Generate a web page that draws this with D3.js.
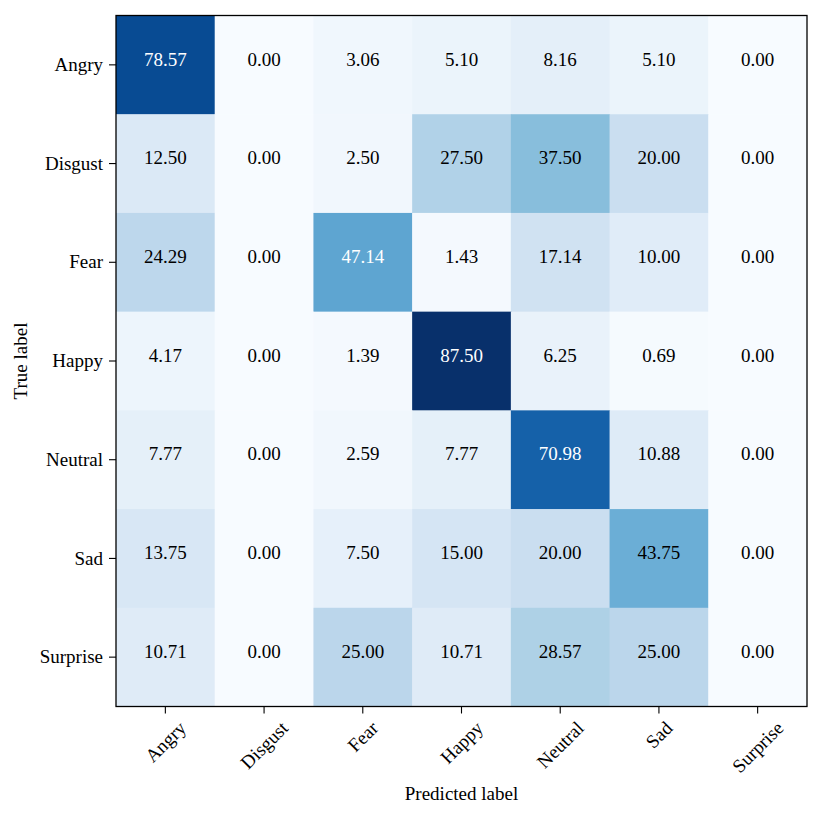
<!DOCTYPE html>
<html>
<head>
<meta charset="utf-8">
<script src="https://cdn.jsdelivr.net/npm/d3@7"></script>
<style>
  body { margin: 0; background: #fff; }
  svg text { font-family: "Liberation Serif", "Times New Roman", serif; }
</style>
</head>
<body>
<script>
'use strict';

var labels = ['Angry', 'Disgust', 'Fear', 'Happy', 'Neutral', 'Sad', 'Surprise'];

// rows = true label, columns = predicted label
var angry    = [78.57, 0.00, 3.06, 5.10, 8.16, 5.10, 0.00];
var disgust  = [12.50, 0.00, 2.50, 27.50, 37.50, 20.00, 0.00];
var fear     = [24.29, 0.00, 47.14, 1.43, 17.14, 10.00, 0.00];
var happy    = [4.17, 0.00, 1.39, 87.50, 6.25, 0.69, 0.00];
var neutral  = [7.77, 0.00, 2.59, 7.77, 70.98, 10.88, 0.00];
var sad      = [13.75, 0.00, 7.50, 15.00, 20.00, 43.75, 0.00];
var surprise = [10.71, 0.00, 25.00, 10.71, 28.57, 25.00, 0.00];

var rows = [angry, disgust, fear, happy, neutral, sad, surprise];

// matplotlib "Blues"
var blues = ['#f7fbff','#deebf7','#c6dbef','#9ecae1','#6baed6','#4292c6','#2171b5','#08519c','#08306b'];

var width = 830, height = 818,
  plotLeft = 116, plotTop = 15.5, side = 691,
  fs = 19;

var cells = [];
rows.forEach(function (r, i) {
  r.forEach(function (v, j) {
    cells.push({ row: labels[i], col: labels[j], value: v });
  });
});

var vmax = d3.max(cells, function (d) { return d.value; });
var thresh = vmax / 2;

var color = d3.scaleLinear()
  .domain(blues.map(function (c, i) { return vmax * i / (blues.length - 1); }))
  .range(blues)
  .interpolate(d3.interpolateRgb);

var x = d3.scaleBand().domain(labels).range([plotLeft, plotLeft + side]);
var y = d3.scaleBand().domain(labels).range([plotTop, plotTop + side]);

var svg = d3.select('body').append('svg')
  .attr('width', width)
  .attr('height', height);

svg.append('g').selectAll('rect')
  .data(cells)
  .enter().append('rect')
  .attr('x', function (d) { return x(d.col); })
  .attr('y', function (d) { return y(d.row); })
  .attr('width', x.bandwidth() + 0.5)
  .attr('height', y.bandwidth() + 0.5)
  .attr('fill', function (d) { return color(d.value); });

svg.append('g').selectAll('text')
  .data(cells)
  .enter().append('text')
  .attr('x', function (d) { return x(d.col) + x.bandwidth() / 2; })
  .attr('y', function (d) { return y(d.row) + y.bandwidth() / 2 - 6; })
  .attr('text-anchor', 'middle')
  .attr('dy', '0.35em')
  .style('font-size', fs + 'px')
  .attr('fill', function (d) { return d.value > thresh ? '#ffffff' : '#000000'; })
  .text(function (d) { return d.value.toFixed(2); });

// y axis
var yAxis = svg.append('g')
  .attr('transform', 'translate(' + plotLeft + ',0)')
  .call(d3.axisLeft(y).tickSize(7).tickPadding(6));
yAxis.select('.domain').remove();
yAxis.selectAll('.tick line').attr('stroke', '#000').attr('stroke-width', 1.1);
yAxis.selectAll('.tick text')
  .style('font-size', fs + 'px')
  .attr('fill', '#000');

// x axis with rotated labels
var xAxis = svg.append('g')
  .attr('transform', 'translate(0,' + (plotTop + side) + ')')
  .call(d3.axisBottom(x).tickSize(7).tickPadding(6));
xAxis.select('.domain').remove();
xAxis.selectAll('.tick line').attr('stroke', '#000').attr('stroke-width', 1.1);
xAxis.selectAll('.tick text')
  .style('font-size', fs + 'px')
  .attr('fill', '#000')
  .each(function () {
    var t = d3.select(this);
    var w = this.getComputedTextLength();
    var h = (w + fs * 0.75) * Math.SQRT1_2;
    t.attr('y', 0).attr('dy', '0.35em')
      .attr('text-anchor', 'middle')
      .attr('transform', 'translate(0,' + (7 + 6 + h / 2) + ') rotate(-45)');
  });

// frame
svg.append('rect')
  .attr('x', plotLeft)
  .attr('y', plotTop)
  .attr('width', side)
  .attr('height', side)
  .attr('fill', 'none')
  .attr('stroke', '#000')
  .attr('stroke-width', 1.3);

svg.append('text')
  .attr('x', plotLeft + side / 2)
  .attr('y', 800)
  .attr('text-anchor', 'middle')
  .style('font-size', fs + 'px')
  .text('Predicted label');

svg.append('text')
  .attr('transform', 'translate(27,' + (plotTop + side / 2) + ') rotate(-90)')
  .attr('text-anchor', 'middle')
  .style('font-size', fs + 'px')
  .text('True label');
</script>
</body>
</html>
